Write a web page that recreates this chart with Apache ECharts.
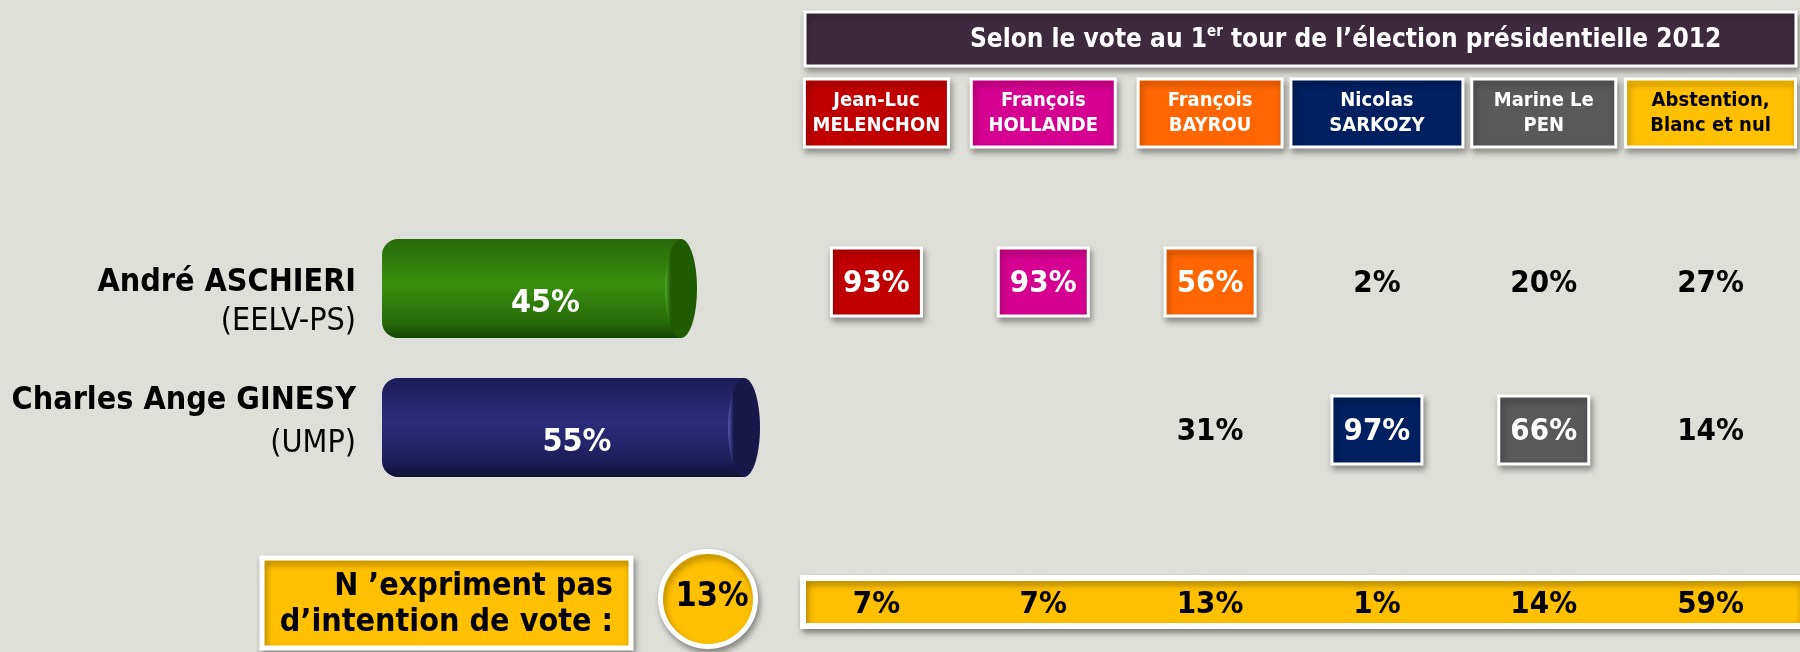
<!DOCTYPE html>
<html>
<head>
<meta charset="utf-8">
<script src="https://cdn.jsdelivr.net/npm/echarts@6/dist/echarts.min.js"></script>
<style>
  html, body { margin: 0; padding: 0; background: #dfdfd9; }
  #main { width: 1800px; height: 652px; }
</style>
</head>
<body>
<div id="main"></div>
<script>
// données
const candidates = ['Jean-Luc\nMELENCHON', 'François\nHOLLANDE', 'François\nBAYROU', 'Nicolas\nSARKOZY', 'Marine Le\nPEN', 'Abstention,\nBlanc et nul'];
const rivals = ['André ASCHIERI', 'Charles Ange GINESY'];
const parties = ['(EELV-PS)', '(UMP)'];
const rivalScores = [45, 55];
const transferAschieri = [93, 93, 56, 2, 20, 27];
const transferGinesy = [null, null, 31, 97, 66, 14];
const noIntention = [7, 7, 13, 1, 14, 59];
const noIntentionTotal = 13;
// camp de chaque électorat : 0 = Aschieri, 1 = Ginesy, -1 = aucun (case encadrée)
const camp = [0, 0, 0, 1, 1, -1];

// styles
const FONT = '"DejaVu Sans Condensed", "DejaVu Sans", sans-serif';
const partyColors = ['#c00000', '#d5008f', '#ff6600', '#002060', '#595959', '#ffc000'];
const headerInk = ['#fff', '#fff', '#fff', '#fff', '#fff', '#000'];
const headerW = [144, 144, 144, 172, 144, 170];
const cylColors = [
  { top: '#266a0a', mid: '#3a8f0d', bot: '#174504', cap: '#1f5c02', glow: '#4fa825' },
  { top: '#1c1c58', mid: '#2d2d7c', bot: '#101034', cap: '#17174a', glow: '#5656b0' }
];
// décalage vertical du nom et du parti par rapport au centre du cylindre
const labelDy = [[-6, 33], [-27, 16]];
const shadow = { shadowBlur: 6, shadowOffsetX: 2, shadowOffsetY: 4, shadowColor: 'rgba(0,0,0,0.35)' };
const boxStyle = Object.assign({ stroke: '#fff', lineWidth: 3 }, shadow);

const chart = echarts.init(document.getElementById('main'));

const transferData = [];
[transferAschieri, transferGinesy].forEach((row, r) => {
  row.forEach((v, c) => { if (v !== null) transferData.push([c, r, v]); });
});

//en-têtes des électorats
function headerItem(params, api) {
  const i = api.value(0);
  const p = api.coord([i, 0]);
  const w = headerW[i], h = 68;
  return {
    type: 'group',
    children: [
      { type: 'rect', shape: { x: p[0] - w / 2, y: p[1] - h / 2, width: w, height: h },
        style: Object.assign({ fill: partyColors[i] }, boxStyle) },
      { type: 'text', style: { text: candidates[i], x: p[0], y: p[1], align: 'center', verticalAlign: 'middle',
        fontSize: 20, fontWeight: 'bold', fontFamily: FONT, fill: headerInk[i], lineHeight: 25 } }
    ]
  };
}

//cases de report
function cellItem(params, api) {
  const c = api.value(0), r = api.value(1), v = api.value(2);
  const p = api.coord([c, r]);
  const boxed = camp[c] === r;
  const children = [];
  if (boxed) {
    children.push({ type: 'rect', shape: { x: p[0] - 45, y: p[1] - 34, width: 90, height: 68 },
      style: Object.assign({ fill: partyColors[c] }, boxStyle) });
  }
  children.push({ type: 'text', style: { text: v + '%', x: p[0], y: p[1] + 2, align: 'center', verticalAlign: 'middle',
    fontSize: 31, fontWeight: 'bold', fontFamily: FONT, fill: boxed ? '#fff' : '#000' } });
  return { type: 'group', children };
}

//ligne du bas
function bottomItem(params, api) {
  const p = api.coord([api.value(0), 0]);
  return { type: 'text', style: { text: api.value(1) + '%', x: p[0], y: p[1], align: 'center', verticalAlign: 'middle',
    fontSize: 31, fontWeight: 'bold', fontFamily: FONT, fill: '#000' } };
}

//cylindres + nom des candidats
function cylinderItem(params, api) {
  const r = api.value(1);
  const end = api.coord([api.value(0), r]);
  const x0 = params.coordSys.x;
  const h = 99, rx = 16;
  const cx = end[0] - rx;
  const pal = cylColors[r];
  return {
    type: 'group',
    children: [
      { type: 'rect', shape: { x: x0, y: end[1] - h / 2, width: cx - x0, height: h, r: [16, 0, 0, 16] },
        style: { fill: new echarts.graphic.LinearGradient(0, 0, 0, 1, [
          { offset: 0, color: pal.top }, { offset: 0.45, color: pal.mid }, { offset: 0.85, color: pal.top }, { offset: 1, color: pal.bot }
        ]) } },
      { type: 'ellipse', shape: { cx: cx, cy: end[1], rx: rx, ry: h / 2 },
        style: { fill: new echarts.graphic.LinearGradient(0, 0, 1, 0, [
          { offset: 0, color: pal.glow }, { offset: 0.18, color: pal.cap }, { offset: 1, color: pal.cap }
        ]) } },
      { type: 'text', style: { text: api.value(0) + '%', x: (x0 + end[0]) / 2 + 6, y: end[1] + 15, align: 'center',
        verticalAlign: 'middle', fontSize: 32, fontWeight: 'bold', fontFamily: FONT, fill: '#fff' } },
      { type: 'text', style: { text: rivals[r], x: x0 - 26, y: end[1] + labelDy[r][0], align: 'right',
        verticalAlign: 'middle', fontSize: 32, fontWeight: 'bold', fontFamily: FONT, fill: '#000' } },
      { type: 'text', style: { text: parties[r], x: x0 - 26, y: end[1] + labelDy[r][1], align: 'right',
        verticalAlign: 'middle', fontSize: 32, fontFamily: FONT, fill: '#000' } }
    ]
  };
}

const tableX = { type: 'category', data: candidates, show: false };

const option = {
  backgroundColor: '#dfdfd9',
  animation: false,
  grid: [
    { left: 793, right: 6, top: 80, height: 66 },
    { left: 793, right: 6, top: 208, height: 296 },
    { left: 793, right: 6, top: 584, height: 42 },
    { left: 382, width: 409.5, top: 219, height: 278 }
  ],
  xAxis: [
    Object.assign({ gridIndex: 0 }, tableX),
    Object.assign({ gridIndex: 1 }, tableX),
    Object.assign({ gridIndex: 2 }, tableX),
    { gridIndex: 3, type: 'value', min: -5, max: 60, show: false }
  ],
  yAxis: [
    { gridIndex: 0, type: 'category', data: ['en-tête'], show: false },
    { gridIndex: 1, type: 'category', data: rivals, inverse: true, show: false },
    { gridIndex: 2, type: 'category', data: ['sans intention'], show: false },
    { gridIndex: 3, type: 'category', data: rivals, inverse: true, show: false }
  ],
  graphic: [
    // bandeau titre
    { type: 'rect', shape: { x: 805, y: 12, width: 991, height: 54 },
      style: Object.assign({ fill: '#3e2a3d', stroke: '#fff', lineWidth: 3 }, shadow) },
    { type: 'text', x: 970, y: 40,
      style: { text: '{a|Selon le vote au 1}{b|er}{a| tour de l’élection présidentielle 2012}', verticalAlign: 'middle',
        rich: {
          a: { fontFamily: FONT, fontSize: 26, fontWeight: 'bold', fill: '#fff', lineHeight: 30 },
          b: { fontFamily: FONT, fontSize: 15, fontWeight: 'bold', fill: '#fff', verticalAlign: 'top', lineHeight: 16 }
        } } },
    // bande jaune du bas
    { type: 'rect', shape: { x: 803, y: 578, width: 1000, height: 48 },
      style: Object.assign({ fill: '#ffc000', stroke: '#fff', lineWidth: 6 }, shadow), z: -1 },
    // encadré "N'expriment pas"
    { type: 'rect', shape: { x: 262, y: 558, width: 369, height: 90 },
      style: Object.assign({ fill: '#ffc000', stroke: '#fff', lineWidth: 5 }, shadow) },
    { type: 'text', x: 613, y: 605,
      style: { text: 'N ’expriment pas\nd’intention de vote :', align: 'right', verticalAlign: 'middle',
        fontFamily: FONT, fontSize: 32, fontWeight: 'bold', fill: '#000', lineHeight: 36 } },
    { type: 'circle', shape: { cx: 708, cy: 599, r: 47.5 },
      style: Object.assign({ fill: '#ffc000', stroke: '#fff', lineWidth: 5 }, shadow) },
    { type: 'text', x: 712, y: 597,
      style: { text: noIntentionTotal + '%', align: 'center', verticalAlign: 'middle',
        fontFamily: FONT, fontSize: 34, fontWeight: 'bold', fill: '#000' } }
  ],
  series: [
    { type: 'custom', xAxisIndex: 0, yAxisIndex: 0, data: candidates.map((c, i) => [i, 0]), renderItem: headerItem },
    { type: 'custom', xAxisIndex: 1, yAxisIndex: 1, data: transferData, renderItem: cellItem },
    { type: 'custom', xAxisIndex: 2, yAxisIndex: 2, data: noIntention.map((v, i) => [i, v]), renderItem: bottomItem, z: 5 },
    { type: 'custom', xAxisIndex: 3, yAxisIndex: 3, data: rivalScores.map((v, i) => [v, i]), renderItem: cylinderItem }
  ]
};

chart.setOption(option);
</script>
</body>
</html>
